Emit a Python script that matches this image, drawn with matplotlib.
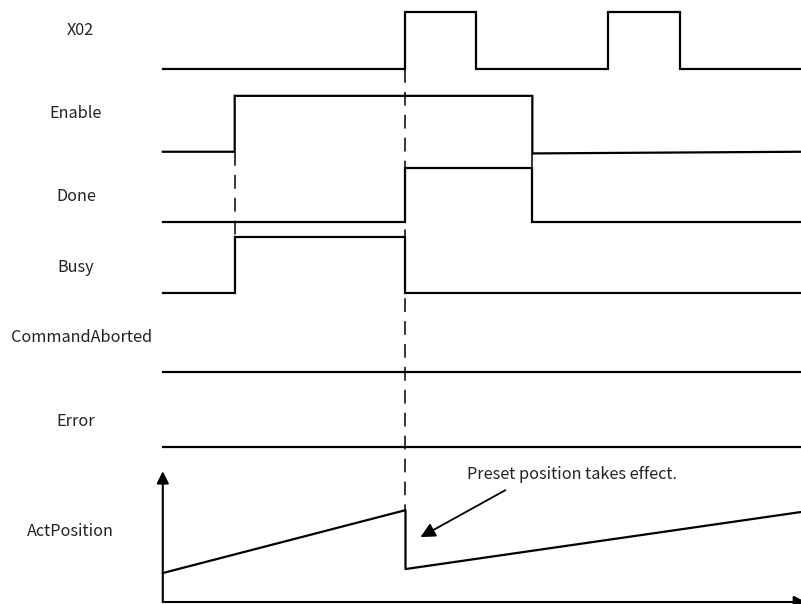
import matplotlib
matplotlib.use("Agg")
import matplotlib.pyplot as plt

plt.rcParams['font.family'] = ['Noto Sans CJK SC', 'DejaVu Sans']

# time axis (arbitrary units), signal rows laid out top to bottom
T_END = 63.8
labels = ["X02", "Enable", "Done", "Busy", "CommandAborted", "Error", "ActPosition"]
label_y = [29, 112, 195, 266, 336, 420, 530]
label_x = [80, 76, 76, 76, 82, 76, 70]

# digital signals: edge times and 0/1 levels
x02_t = [0, 24.3, 24.3, 31.4, 31.4, 44.6, 44.6, 51.8, 51.8, T_END]
x02_v = [0, 0, 1, 1, 0, 0, 1, 1, 0, 0]
enable_t = [0, 7.2, 7.2, 37.0, 37.0, T_END]
enable_v = [0, 0, 1, 1, -0.03, 0]
done_t = [0, 24.3, 24.3, 37.0, 37.0, T_END]
done_v = [0, 0, 1, 1, 0, 0]
busy_t = [0, 7.2, 7.2, 24.3, 24.3, T_END]
busy_v = [0, 0, 1, 1, 0, 0]
aborted_t = [0, T_END]
aborted_v = [0, 0]
error_t = [0, T_END]
error_v = [0, 0]

# row baselines and high-level heights (figure layout)
baselines = [69, 152, 222, 293, 373, 448]
heights = [57, 56, 54, 56, 56, 56]

# ActPosition trace
pos_t = [0, 24.3, 24.3, T_END]
pos_v = [29, 92, 33, 90]
pos_base = 603

fig = plt.figure(figsize=(8.01, 6.04), dpi=100)
ax = fig.add_axes([0, 0, 1, 1])
ax.set_xlim(-16.3, 63.9)
ax.set_ylim(605, 0)
ax.axis('off')

signals = [(x02_t, x02_v), (enable_t, enable_v), (done_t, done_v),
           (busy_t, busy_v), (aborted_t, aborted_v), (error_t, error_v)]
for (t, v), b, h in zip(signals, baselines, heights):
    ax.plot(t, [b - h * val for val in v], color='black', lw=1.6,
            solid_joinstyle='miter')

ax.plot(pos_t, [pos_base - p for p in pos_v], color='black', lw=1.6)

# position axes with arrows
ax.annotate("", xy=(0, 472), xytext=(0, pos_base), annotation_clip=False,
            arrowprops=dict(arrowstyle='-|>', color='black', lw=1.5,
                            mutation_scale=18, shrinkA=0, shrinkB=0))
ax.annotate("", xy=(64.4, pos_base), xytext=(0, pos_base), annotation_clip=False,
            arrowprops=dict(arrowstyle='-|>', color='black', lw=1.5,
                            mutation_scale=18, shrinkA=0, shrinkB=0))

# dashed guide lines
dash = dict(color='black', lw=1.1, dashes=(9, 6))
ax.plot([7.2, 7.2], [baselines[1], baselines[3] - heights[3]], **dash)
ax.plot([24.3, 24.3], [baselines[0], pos_base - pos_v[1]], **dash)
ax.plot([37.0, 37.0], [baselines[1] + 2, baselines[2] - heights[2]], **dash)

# labels: nudge down a little since CJK font metrics sit high with va=center
for lab, x, y in zip(labels, label_x, label_y):
    ax.text((x - 163) / 10.0, y + 2, lab, ha='center', va='center',
            fontsize=11.7, color='#222222')

ax.text(30.5, 475, "Preset position takes effect.", ha='left', va='center',
        fontsize=11.7, color='#222222')
ax.annotate("", xy=(25.8, 538), xytext=(34.3, 491),
            arrowprops=dict(arrowstyle='-|>', color='black', lw=1.3,
                            mutation_scale=22, shrinkA=0, shrinkB=0))

fig.savefig("out.png", dpi=100)
